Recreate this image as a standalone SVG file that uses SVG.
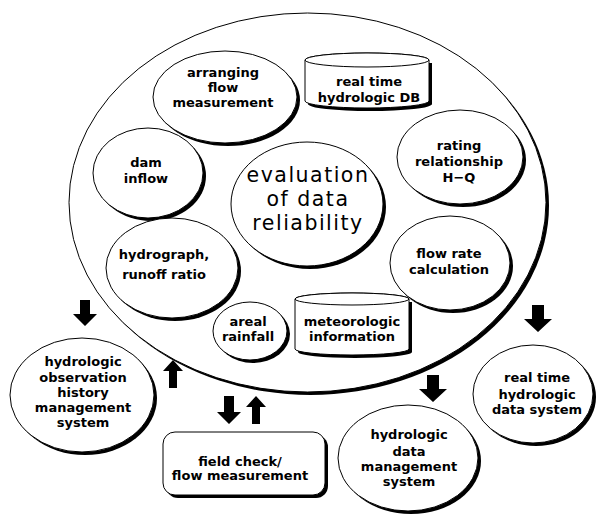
<svg xmlns="http://www.w3.org/2000/svg" width="597" height="514" viewBox="0 0 597 514">
<style>
.sh{fill:#000;stroke:none}
.fg{fill:#fff;stroke:#000;stroke-width:1}
.t{font-family:"DejaVu Sans",sans-serif;font-size:13px;font-weight:bold;text-anchor:middle;fill:#000}
.big{font-family:"DejaVu Sans",sans-serif;font-size:20.5px;letter-spacing:1.5px;text-anchor:middle;fill:#000}
.arr{fill:#000;stroke:none}
</style>
<rect width="597" height="514" fill="#fff"/>
<g id="outer">
<ellipse class="sh" cx="310.5" cy="205.5" rx="238.5" ry="189.5"/>
<ellipse class="fg" cx="307.5" cy="202.5" rx="238.5" ry="189.5"/>
</g>
<g id="arranging">
<ellipse class="sh" cx="228" cy="100" rx="72" ry="46"/>
<ellipse class="fg" cx="225" cy="97" rx="72" ry="46"/>
<text class="t" x="223" y="77">arranging</text>
<text class="t" x="223" y="92">flow</text>
<text class="t" x="223" y="107">measurement</text>
</g>
<g id="realtimeDB">
<path class="sh" d="M308,63 L308,104 A62,7 0 0 0 432,104 L432,63 Z"/>
<path class="fg" d="M305,60 L305,101 A62,7 0 0 0 429,101 L429,60 A62,7 0 0 0 305,60 Z"/>
<ellipse class="fg" cx="367" cy="60" rx="62" ry="7"/>
<text class="t" x="369" y="86">real time</text>
<text class="t" x="369" y="102">hydrologic DB</text>
</g>
<g id="dam">
<ellipse class="sh" cx="151" cy="176" rx="55" ry="45"/>
<ellipse class="fg" cx="148" cy="173" rx="55" ry="45"/>
<text class="t" x="146" y="167">dam</text>
<text class="t" x="146" y="183">inflow</text>
</g>
<g id="evaluation">
<ellipse class="sh" cx="310" cy="207" rx="76" ry="62"/>
<ellipse class="fg" cx="307" cy="204" rx="76" ry="62"/>
<text class="big" x="308" y="182">evaluation</text>
<text class="big" x="308" y="206">of data</text>
<text class="big" x="308" y="230">reliability</text>
</g>
<g id="rating">
<ellipse class="sh" cx="463" cy="160" rx="63" ry="47"/>
<ellipse class="fg" cx="460" cy="157" rx="63" ry="47"/>
<text class="t" x="459" y="150">rating</text>
<text class="t" x="459" y="166">relationship</text>
<text class="t" x="459" y="182">H−Q</text>
</g>
<g id="flowrate">
<ellipse class="sh" cx="453" cy="266" rx="60" ry="47"/>
<ellipse class="fg" cx="450" cy="263" rx="60" ry="47"/>
<text class="t" x="449" y="258">flow rate</text>
<text class="t" x="449" y="274">calculation</text>
</g>
<g id="hydrograph">
<ellipse class="sh" cx="175" cy="271" rx="66" ry="50"/>
<ellipse class="fg" cx="172" cy="268" rx="66" ry="50"/>
<text class="t" x="164" y="259">hydrograph,</text>
<text class="t" x="164" y="279">runoff ratio</text>
</g>
<g id="areal">
<ellipse class="sh" cx="253" cy="334" rx="37" ry="29"/>
<ellipse class="fg" cx="250" cy="331" rx="37" ry="29"/>
<text class="t" x="248" y="326">areal</text>
<text class="t" x="248" y="341">rainfall</text>
</g>
<g id="meteorologic">
<path class="sh" d="M298,302 L298,352 A57,6 0 0 0 412,352 L412,302 Z"/>
<path class="fg" d="M295,299 L295,349 A57,6 0 0 0 409,349 L409,299 A57,6 0 0 0 295,299 Z"/>
<ellipse class="fg" cx="352" cy="299" rx="57" ry="6"/>
<text class="t" x="352" y="326">meteorologic</text>
<text class="t" x="352" y="341">information</text>
</g>
<g id="history">
<ellipse class="sh" cx="85" cy="398" rx="72" ry="57"/>
<ellipse class="fg" cx="82" cy="395" rx="72" ry="57"/>
<text class="t" x="83" y="366">hydrologic</text>
<text class="t" x="83" y="382">observation</text>
<text class="t" x="83" y="397">history</text>
<text class="t" x="83" y="412">management</text>
<text class="t" x="83" y="427">system</text>
</g>
<g id="fieldcheck">
<rect class="sh" x="166" y="435" width="162" height="63" rx="12"/>
<rect class="fg" x="163" y="432" width="162" height="63" rx="12"/>
<text class="t" x="240" y="466">field check/</text>
<text class="t" x="240" y="480">flow measurement</text>
</g>
<g id="datamgmt">
<ellipse class="sh" cx="411" cy="461" rx="70" ry="53"/>
<ellipse class="fg" cx="408" cy="458" rx="70" ry="53"/>
<text class="t" x="409" y="439">hydrologic</text>
<text class="t" x="409" y="456">data</text>
<text class="t" x="409" y="471">management</text>
<text class="t" x="409" y="486">system</text>
</g>
<g id="realtimesys">
<ellipse class="sh" cx="536" cy="397" rx="60" ry="49"/>
<ellipse class="fg" cx="533" cy="394" rx="60" ry="49"/>
<text class="t" x="537" y="382">real time</text>
<text class="t" x="537" y="399">hydrologic</text>
<text class="t" x="537" y="414">data system</text>
</g>
<g id="connectors">
<polygon class="arr" points="80,300 90,300 90,314 97,314 85,326 73,314 80,314"/>
<polygon class="arr" points="169,388 177,388 177,371 183,371 173,360 163,371 169,371"/>
<polygon class="arr" points="224,396 234,396 234,412 241,412 229,424 217,412 224,412"/>
<polygon class="arr" points="252,424 260,424 260,407 266,407 256,396 246,407 252,407"/>
<polygon class="arr" points="427,375 439,375 439,389 447,389 433,402 419,389 427,389"/>
<polygon class="arr" points="532,305 544,305 544,319 552,319 538,332 524,319 532,319"/>
</g>
</svg>
